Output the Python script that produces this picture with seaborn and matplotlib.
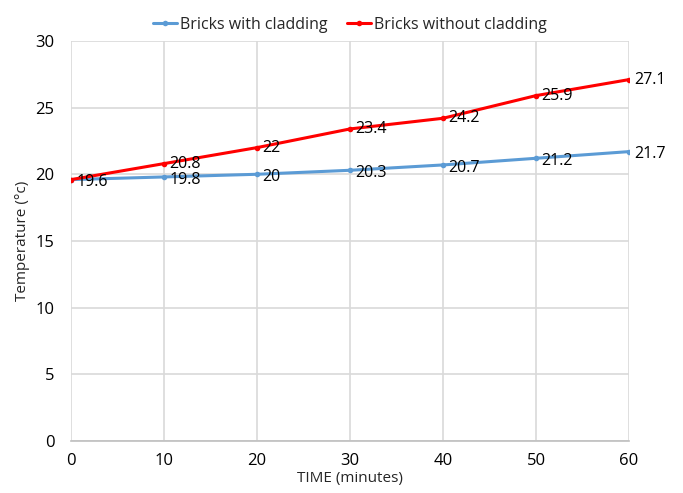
import matplotlib
matplotlib.use("Agg")
import matplotlib.pyplot as plt
import pandas as pd
import seaborn as sns

# values
time_min = [0, 10, 20, 30, 40, 50, 60]
with_cladding = [19.6, 19.8, 20.0, 20.3, 20.7, 21.2, 21.7]
without_cladding = [19.6, 20.8, 22.0, 23.4, 24.2, 25.9, 27.1]
series_names = ["Bricks with cladding", "Bricks without cladding"]
label_texts = {
    "Bricks with cladding": ["19.6", "19.8", "20", "20.3", "20.7", "21.2", "21.7"],
    "Bricks without cladding": ["", "20.8", "22", "23.4", "24.2", "25.9", "27.1"],
}


def main():
    df = pd.DataFrame({
        "time": time_min * 2,
        "temp": with_cladding + without_cladding,
        "series": [series_names[0]] * len(time_min) + [series_names[1]] * len(time_min),
    })

    sns.set_style("white")
    plt.rcParams["font.family"] = ["Open Sans", "DejaVu Sans"]

    fig = plt.figure(figsize=(6.83, 4.93), dpi=100)
    ax = fig.add_axes([0.104, 0.1055, 0.817, 0.8115])

    palette = {series_names[0]: "#5B9BD5", series_names[1]: "#FF0000"}
    sns.lineplot(data=df, x="time", y="temp", hue="series", palette=palette,
                 marker="o", markersize=4, markeredgewidth=0, linewidth=2.2,
                 ax=ax)

    # data labels, right of each point (red ones nudged up a touch)
    for name, dy in zip(series_names, [-2, 0]):
        sub = df[df["series"] == name]
        for (x, y), txt in zip(sub[["time", "temp"]].values, label_texts[name]):
            if txt:
                ax.annotate(txt, (x, y), xytext=(4, dy), textcoords="offset points",
                            ha="left", va="center", fontsize=11.5, color="#000000")

    ax.set_xlim(0, 60)
    ax.set_ylim(0, 30)
    ax.set_xticks(range(0, 61, 10))
    ax.set_yticks(range(0, 31, 5))
    ax.grid(True, color="#D9D9D9", linewidth=1.2)
    ax.set_axisbelow(True)
    for s in ["top", "right", "left"]:
        ax.spines[s].set_visible(False)
    ax.spines["bottom"].set_color("#BFBFBF")
    ax.spines["bottom"].set_linewidth(1.2)
    ax.tick_params(axis="x", length=0, labelsize=12, pad=9, colors="#000000")
    ax.tick_params(axis="y", length=0, labelsize=12, pad=12, colors="#000000")
    ax.set_xlabel("TIME (minutes)", fontsize=11, labelpad=1)
    ax.set_ylabel("Temperature (°c)", fontsize=11, labelpad=4)

    handles, labels = ax.get_legend_handles_labels()
    ax.legend(handles, labels, loc="lower center", bbox_to_anchor=(0.5, 1.0),
              ncol=2, frameon=False, fontsize=11.5, handlelength=1.5,
              handletextpad=0.2, columnspacing=1.2, borderaxespad=0.1)

    fig.savefig("out.png", dpi=100)


if __name__ == "__main__":
    main()
